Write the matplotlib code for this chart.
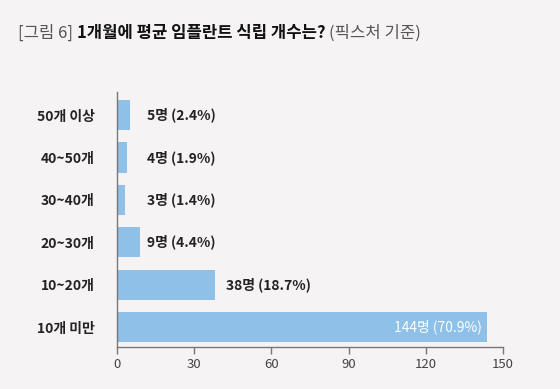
import matplotlib
matplotlib.use("Agg")
import matplotlib.pyplot as plt

plt.rcParams['font.family'] = ['Noto Sans CJK KR', 'DejaVu Sans']

categories = ["10개 미만", "10~20개", "20~30개", "30~40개", "40~50개", "50개 이상"]
counts = [144, 38, 9, 3, 4, 5]
percents = [70.9, 18.7, 4.4, 1.4, 1.9, 2.4]
xticks = [0, 30, 60, 90, 120, 150]

bg = "#f6f3f4"
bar_color = "#8ec0e8"

fig = plt.figure(figsize=(5.6, 3.89), dpi=100, facecolor=bg)
ax = fig.add_axes([0.209, 0.108, 0.689, 0.655], facecolor=bg)

y = list(range(len(categories)))
ax.barh(y, counts, height=0.71, color=bar_color)

for i, (c, p) in enumerate(zip(counts, percents)):
    label = f"{c}명 ({p}%)"
    if c > 100:
        ax.text(c - 2.3, i, label, color="white", ha="right", va="center",
                fontsize=10)
    else:
        xpos = 11.7 if c < 20 else c + 4.3
        ax.text(xpos, i, label, color="#222222", ha="left",
                va="center", fontsize=10, fontweight="bold")

ax.set_xlim(0, 150)
ax.set_ylim(-0.47, 5.54)
ax.set_xticks(xticks)
ax.set_yticks(y)
ax.set_yticklabels(categories, fontsize=10, fontweight="bold", color="#222222")
ax.tick_params(axis="y", length=0, pad=16)
ax.tick_params(axis="x", length=5, width=1, color="#777777", labelsize=9.5,
               labelcolor="#444444", pad=3)
for s in ["top", "right"]:
    ax.spines[s].set_visible(False)
for s in ["left", "bottom"]:
    ax.spines[s].set_color("#777777")
    ax.spines[s].set_linewidth(1)

# title in three pieces
fig.canvas.draw()
r = fig.canvas.get_renderer()
parts = [("[그림 6] ", "#555555", "normal"),
         ("1개월에 평균 임플란트 식립 개수는? ", "#111111", "bold"),
         ("(픽스처 기준)", "#555555", "normal")]
x0 = 18 / 560
for txt, col, w in parts:
    t = fig.text(x0, 1 - 33 / 389, txt, color=col, fontweight=w, fontsize=12,
                 va="center", ha="left")
    bb = t.get_window_extent(r)
    x0 += bb.width / fig.bbox.width

fig.savefig("out.png", dpi=100, facecolor=bg)
